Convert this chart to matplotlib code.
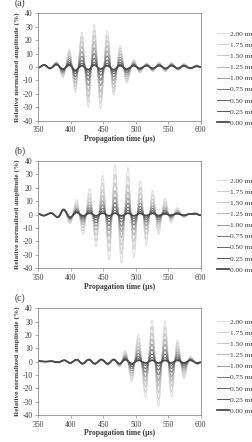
import matplotlib
matplotlib.use("Agg")
import matplotlib.pyplot as plt
from matplotlib.path import Path
from matplotlib.patches import PathPatch
from matplotlib.lines import Line2D

plt.rcParams['font.family'] = ['Liberation Serif', 'DejaVu Serif']
plt.rcParams['axes.unicode_minus'] = False

# ---------------- data ----------------
thickness_labels = ["2.00 mm", "1.75 mm", "1.50 mm", "1.25 mm", "1.00 mm",
                    "0.75 mm", "0.50 mm", "0.25 mm", "0.00 mm"]

# relative share of the 2.00 mm response reached by each curve
levels_a = [1.0, 0.86, 0.72, 0.57, 0.42, 0.28, 0.16, 0.07, 0.0]
levels_b = [1.0, 0.80, 0.62, 0.46, 0.33, 0.22, 0.13, 0.06, 0.0]
levels_c = [1.0, 0.84, 0.68, 0.53, 0.40, 0.27, 0.16, 0.07, 0.0]

# panel (a): times of the wave extrema (us), 2.00 mm and 0.00 mm amplitudes (%)
t_a = [350, 359, 368, 378, 388, 398, 407, 417, 427, 436, 446, 456, 466, 476,
       486, 497, 506, 517, 526, 536, 546, 555, 565, 574, 584, 594, 600]
amp200_a = [-0.5, 1.5, -1.5, 4, -8, 13, -19, 26, -30, 32, -31, 27, -21, 16,
            -12, 5.5, -4.5, 3, -3.5, 3.5, -3.5, 3.5, -2.5, 2.5, -1.5, 1.5, 0]
amp000_a = [-0.5, 1.5, -1, 1.8, -1.5, 1.5, -2.5, 1, -2, 1.5, -1.5, 1, -2, 1,
            -1.5, 1, -1, 1, -1, 1, -1, 1, -1, 0.8, -0.8, 0.5, 0]

# panel (b)
t_b = [350, 358, 370, 380, 389, 399, 409, 419, 429, 439, 449, 459, 468, 478,
       488, 497, 507, 516, 526, 535, 545, 554, 564, 574, 583, 592, 600]
amp200_b = [0.5, -1, 1.5, -2.5, 4.5, -7, 11, -15, 19, -24, 29, -34, 37, -36,
            35, -32, 25, -23, 18, -15, 12, -6, 5, -2.5, 0.5, 1.5, -1]
amp000_b = [0.5, -0.8, 1, -2, 3.5, -2, 1.5, -1, 1, -1, 1, -1, 1, -1,
            1, -1, 0.8, -0.8, 0.8, -0.8, 0.5, -0.5, 0.5, -0.5, 0.3, 0.5, -0.5]

# panel (c)
t_c = [350, 360, 370, 380, 390, 399, 409, 418, 428, 437, 447, 457, 466, 475,
       484, 494, 504, 515, 525, 535, 545, 555, 564, 574, 584, 595, 600]
amp200_c = [0.5, 0, 0.3, -0.5, 1, -1, 1.5, -1.5, 2, -2, 2, -2.5, 2, -4,
            8.5, -15, 20.5, -27, 31, -33.5, 30.5, -26.5, 16.5, -13, 4, -2.5, -0.5]
amp000_c = [0.5, 0, 0.3, -0.5, 1, -1, 1.5, -1.5, 1.5, -1.5, 1.5, -1.5, 1.5, -1.5,
            1.5, -1.5, 1, -1, 1, -1, 1, -1, 1, -1, 1, -1, -0.5]

x_ticks = [350, 400, 450, 500, 550, 600]
y_ticks = [-40, -30, -20, -10, 0, 10, 20, 30, 40]
panel_tags = ["(a)", "(b)", "(c)"]

# ---------------- styling ----------------
colors = ['#dedede', '#d0d0d0', '#c6c6c6', '#b8b8b8', '#9c9c9c',
          '#7c7c7c', '#686868', '#5a5a5a', '#4a4a4a']
widths = [0.7, 0.7, 0.7, 0.75, 0.75, 0.75, 0.75, 0.75, 1.3]
text_col = '#3a3a3a'
frame_col = '#8c8c8c'

W, H = 252, 442
fig = plt.figure(figsize=(W / 100, H / 100), dpi=100)

left_px, right_px = 38.3, 200.7
tops = [13.3, 160.7, 308.3]
bottoms = [120.7, 268.3, 415.0]
legend_top = [0.84, 0.845, 0.905]


def wave_path(ts, amps):
    verts = [(ts[0], amps[0])]
    codes = [Path.MOVETO]
    for i in range(1, len(ts)):
        t0, a0, t1, a1 = ts[i - 1], amps[i - 1], ts[i], amps[i]
        dt = t1 - t0
        verts += [(t0 + 0.36 * dt, a0), (t1 - 0.36 * dt, a1), (t1, a1)]
        codes += [Path.CURVE4] * 3
    return Path(verts, codes)


panels = [(t_a, amp200_a, amp000_a, levels_a),
          (t_b, amp200_b, amp000_b, levels_b),
          (t_c, amp200_c, amp000_c, levels_c)]

for p, (ts, full, base, levels) in enumerate(panels):
    ax = fig.add_axes([left_px / W, 1 - bottoms[p] / H,
                       (right_px - left_px) / W, (bottoms[p] - tops[p]) / H])
    for k, lev in enumerate(levels):
        amps = [b + lev * (f - b) for f, b in zip(full, base)]
        patch = PathPatch(wave_path(ts, amps), fill=False, edgecolor=colors[k],
                          lw=widths[k], joinstyle='round', capstyle='round')
        ax.add_patch(patch)
    ax.set_xlim(350, 600)
    ax.set_ylim(-40, 40)
    ax.set_xticks(x_ticks)
    ax.set_yticks(y_ticks)
    ax.tick_params(labelsize=5.5, length=2, width=0.5, color=frame_col,
                   labelcolor=text_col, pad=2, direction='out')
    for s in ax.spines.values():
        s.set_color(frame_col)
        s.set_linewidth(0.6)
    ax.set_xlabel('Propagation time (\u00b5s)', fontsize=5.5, fontweight='bold',
                  color=text_col)
    ax.xaxis.set_label_coords(0.5, -0.135)
    ax.set_ylabel('Relative normalized amplitude (%)', fontsize=5.2,
                  fontweight='bold', color=text_col)
    ax.yaxis.set_label_coords(-0.11, 0.5)

    handles = [Line2D([], [], color=colors[k], lw=widths[k]) for k in range(len(levels))]
    leg = ax.legend(handles, thickness_labels, loc='upper left',
                    bbox_to_anchor=(1.1, legend_top[p]), frameon=False,
                    fontsize=5.3, handlelength=1.6, handletextpad=0.15,
                    labelspacing=0.68, borderpad=0, borderaxespad=0)
    for txt in leg.get_texts():
        txt.set_color(text_col)

    fig.text(15 / W, 1 - (tops[p] - 10) / H, panel_tags[p], fontsize=7,
             color=text_col, ha='left', va='center')

fig.savefig('out.png', dpi=100)
